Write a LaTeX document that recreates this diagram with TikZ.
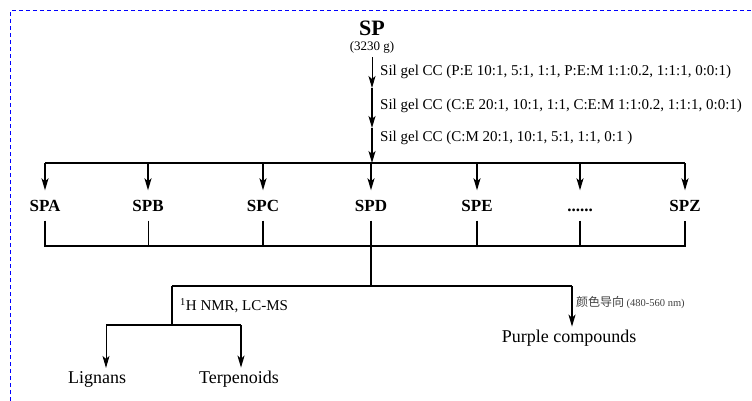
\documentclass[tikz,border=0pt]{standalone}
\usepackage{fontspec}
\setmainfont{Liberation Serif}
\newfontfamily\cjkfont{Noto Sans CJK SC}
\usetikzlibrary{arrows.meta}
\newcommand{\moredots}{......}

\begin{document}
\begin{tikzpicture}[x=1pt, y=-1pt,
    arr/.style={-{Stealth[length=12pt,width=7pt,inset=3pt]}},
    thk/.style={line width=1.6pt},
    thn/.style={line width=0.9pt},
    frame/.style={blue, line width=1pt, dash pattern=on 4pt off 3pt},
    frac/.style={font=\fontsize{17}{17}\selectfont\bfseries, text height=12pt,
      text depth=0pt, minimum height=30pt, inner sep=0pt},
    cond/.style={font=\fontsize{15}{15}\selectfont, anchor=west, inner sep=0pt},
    prod/.style={font=\fontsize{18}{18}\selectfont, inner sep=3pt}]
    \useasboundingbox (0,0) rectangle (752,401);

    % dashed frame
    \draw[frame] (10,401) -- (10,11) -- (752,11);

    % crude extract
    \node (sp) at (372,28) {\fontsize{22}{22}\selectfont\bfseries SP};
    \node[inner xsep=0pt, inner ysep=4pt] (mass) at (372,47)
      {\fontsize{13}{13}\selectfont (3230 g)};

    % column steps
    \coordinate (j1) at (372,88);
    \coordinate (j2) at (372,128);
    \coordinate (bar) at (372,163);
    \draw[thn, arr] (mass) -- (j1);
    \draw[thk, arr] (j1) -- (j2);
    \draw[thk, arr] (j2) -- (bar);

    \node[cond] (c1) at (380,72) {Sil gel CC (P:E 10:1, 5:1, 1:1, P:E:M 1:1:0.2, 1:1:1, 0:0:1)};
    \node[cond] (c2) at (380,106) {Sil gel CC (C:E 20:1, 10:1, 1:1, C:E:M 1:1:0.2, 1:1:1, 0:0:1)};
    \node[cond] (c3) at (380,138) {Sil gel CC (C:M 20:1, 10:1, 5:1, 1:1, 0:1 )};

    % fractions
    \foreach \n/\x/\t in {spa/45/SPA, spb/148/SPB, spc/263/SPC, spd/371/SPD,
                          spe/477/SPE, spx/580/\moredots, spz/685/SPZ}
      \node[frac] (\n) at (\x,205.5) {\t};

    \draw[thk] (spa |- bar) -- (spz |- bar);
    \foreach \n in {spa,spb,spc,spd,spe,spx,spz}
      \draw[thk, arr] (\n |- bar) -- (\n);

    % pooling bracket
    \coordinate (sub) at (371,246);
    \draw[thk] (spa) -- (spa |- sub) -- (spz |- sub) -- (spz);
    \draw[thn] (spb) -- (spb |- sub);
    \foreach \n in {spc,spe,spx}
      \draw[thk] (\n) -- (\n |- sub);

    % SPD split
    \coordinate (split) at (371,286);
    \coordinate (nmr) at (172,286);
    \coordinate (col) at (572,286);
    \draw[thk] (spd) -- (split);
    \draw[thk] (nmr) -- (col);

    % colour guided branch
    \node[prod] (purple) at (569,338) {Purple compounds};
    \draw[thk, arr] (col) -- (col |- purple.north);
    \node[anchor=west, inner sep=0pt, text=black!75] (guide) at (576,303)
      {{\cjkfont\fontsize{12}{12}\selectfont 颜色导向} {\fontsize{10.5}{10.5}\selectfont (480-560 nm)}};

    % NMR guided branch
    \coordinate (fork) at (172,325);
    \coordinate (forkL) at (106,325);
    \coordinate (forkR) at (241,325);
    \node[cond] (nmrlab) at (180,306) {\textsuperscript{1}H NMR, LC-MS};
    \node[prod] (lig) at (97,379) {Lignans};
    \node[prod] (ter) at (239,379) {Terpenoids};
    \draw[thk] (nmr) -- (fork);
    \draw[thk] (forkL) -- (forkR);
    \draw[thn, arr] (forkL) -- (forkL |- lig.north);
    \draw[thk, arr] (forkR) -- (forkR |- ter.north);
\end{tikzpicture}
\end{document}
